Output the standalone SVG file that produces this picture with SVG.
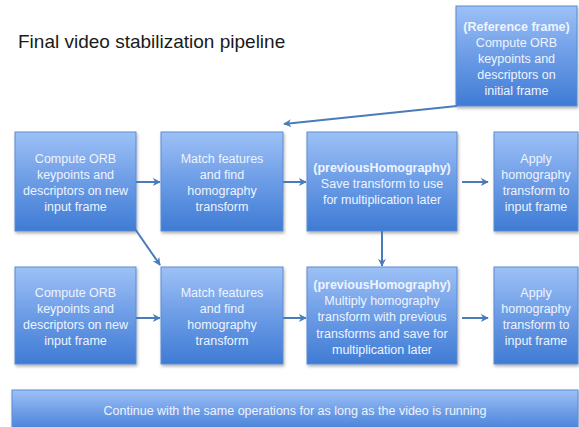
<svg xmlns="http://www.w3.org/2000/svg" width="579" height="427" viewBox="0 0 579 427">
  <defs>
    <linearGradient id="boxFill" x1="0" y1="0" x2="0" y2="1">
      <stop offset="0" stop-color="#9dc1f6"/>
      <stop offset="0.5" stop-color="#6c9ce6"/>
      <stop offset="1" stop-color="#3f7bd4"/>
    </linearGradient>
    <filter id="shadow" x="-10%" y="-10%" width="130%" height="130%">
      <feDropShadow dx="1" dy="2" stdDeviation="1.5" flood-color="#000" flood-opacity="0.3"/>
    </filter>
    <marker id="arrow" viewBox="0 0 10 10" refX="9" refY="5" markerWidth="4" markerHeight="4" orient="auto" markerUnits="strokeWidth">
      <path d="M0,0 L10,5 L0,10 L3,5 z" fill="#4a7cbc"/>
    </marker>
  </defs>
  <style>
    .box { fill: url(#boxFill); stroke: #5b8cd2; stroke-width: 1; filter: url(#shadow); }
    .lbl { font-family: "Liberation Sans", Arial, sans-serif; font-size: 12.5px; fill: #eef4ff; text-anchor: middle; }
    .bold { font-weight: bold; }
    .title { font-family: "Liberation Sans", Arial, sans-serif; font-size: 19px; fill: #1a1a1a; }
    .edge { stroke: #4a7cbc; stroke-width: 2; fill: none; marker-end: url(#arrow); }
  </style>

  <rect width="579" height="427" fill="#ffffff"/>

  <text class="title" x="18" y="48">Final video stabilization pipeline</text>

  <g id="reference-frame">
    <rect class="box" x="456" y="6" width="121" height="100"/>
    <text class="lbl" x="516.5" y="31"><tspan class="bold" x="516.5">(Reference frame)</tspan><tspan x="516.5" dy="16">Compute ORB</tspan><tspan x="516.5" dy="16">keypoints and</tspan><tspan x="516.5" dy="16">descriptors on</tspan><tspan x="516.5" dy="16">initial frame</tspan></text>
  </g>

  <g id="compute-orb-1">
    <rect class="box" x="15" y="132" width="121" height="99"/>
    <text class="lbl" x="75.5" y="163"><tspan x="75.5">Compute ORB</tspan><tspan x="75.5" dy="16">keypoints and</tspan><tspan x="75.5" dy="16">descriptors on new</tspan><tspan x="75.5" dy="16">input frame</tspan></text>
  </g>

  <g id="match-1">
    <rect class="box" x="161" y="132" width="122" height="99"/>
    <text class="lbl" x="222" y="163"><tspan x="222">Match features</tspan><tspan x="222" dy="16">and find</tspan><tspan x="222" dy="16">homography</tspan><tspan x="222" dy="16">transform</tspan></text>
  </g>

  <g id="save-homography">
    <rect class="box" x="307" y="132" width="150" height="99"/>
    <text class="lbl" x="382" y="172"><tspan class="bold" x="382">(previousHomography)</tspan><tspan x="382" dy="16">Save transform to use</tspan><tspan x="382" dy="16">for multiplication later</tspan></text>
  </g>

  <g id="apply-1">
    <rect class="box" x="494" y="132" width="84" height="99"/>
    <text class="lbl" x="536" y="163"><tspan x="536">Apply</tspan><tspan x="536" dy="16">homography</tspan><tspan x="536" dy="16">transform to</tspan><tspan x="536" dy="16">input frame</tspan></text>
  </g>

  <g id="compute-orb-2">
    <rect class="box" x="15" y="267" width="121" height="97"/>
    <text class="lbl" x="75.5" y="297"><tspan x="75.5">Compute ORB</tspan><tspan x="75.5" dy="16">keypoints and</tspan><tspan x="75.5" dy="16">descriptors on new</tspan><tspan x="75.5" dy="16">input frame</tspan></text>
  </g>

  <g id="match-2">
    <rect class="box" x="161" y="267" width="122" height="97"/>
    <text class="lbl" x="222" y="297"><tspan x="222">Match features</tspan><tspan x="222" dy="16">and find</tspan><tspan x="222" dy="16">homography</tspan><tspan x="222" dy="16">transform</tspan></text>
  </g>

  <g id="multiply-homography">
    <rect class="box" x="307" y="267" width="150" height="97"/>
    <text class="lbl" x="382" y="289"><tspan class="bold" x="382">(previousHomography)</tspan><tspan x="382" dy="16.2">Multiply homography</tspan><tspan x="382" dy="16.2">transform with previous</tspan><tspan x="382" dy="16.2">transforms and save for</tspan><tspan x="382" dy="16.2">multiplication later</tspan></text>
  </g>

  <g id="apply-2">
    <rect class="box" x="494" y="267" width="84" height="97"/>
    <text class="lbl" x="536" y="297"><tspan x="536">Apply</tspan><tspan x="536" dy="16">homography</tspan><tspan x="536" dy="16">transform to</tspan><tspan x="536" dy="16">input frame</tspan></text>
  </g>

  <g id="continue">
    <rect class="box" x="12" y="390" width="566" height="45"/>
    <text class="lbl" x="295" y="415">Continue with the same operations for as long as the video is running</text>
  </g>

  <g id="connectors">
    <path class="edge" d="M457,106 L284,124"/>
    <path class="edge" d="M136,182 L160,182"/>
    <path class="edge" d="M283,182 L306,182"/>
    <path class="edge" d="M462,182 L488,182"/>
    <path class="edge" d="M133,226 L160,265"/>
    <path class="edge" d="M382,231 L382,266"/>
    <path class="edge" d="M136,318 L160,318"/>
    <path class="edge" d="M283,318 L306,318"/>
    <path class="edge" d="M462,318 L488,318"/>
  </g>
</svg>
